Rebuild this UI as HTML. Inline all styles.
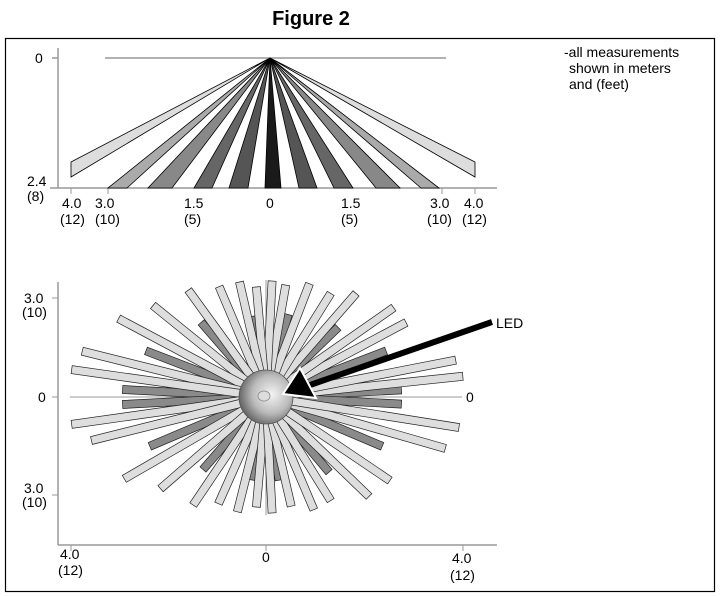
<!DOCTYPE html>
<html><head><style>
html,body{margin:0;padding:0;background:#fff;}
svg{display:block;font-family:"Liberation Sans",Arial,sans-serif;}
</style></head><body>
<svg id="s" width="721" height="596" viewBox="0 0 721 596" xmlns="http://www.w3.org/2000/svg">
<text x="311" y="25" font-size="20" font-weight="bold" text-anchor="middle">Figure 2</text>
<rect x="5.5" y="38.5" width="709" height="553" fill="none" stroke="#000" stroke-width="1.2"/>
<line x1="58" y1="48" x2="58" y2="188" stroke="#999" stroke-width="1.5"/>
<line x1="50" y1="188" x2="497" y2="188" stroke="#999" stroke-width="1.5"/>
<line x1="52" y1="58" x2="58" y2="58" stroke="#999" stroke-width="1.5"/>
<line x1="105" y1="58" x2="446" y2="58" stroke="#999" stroke-width="1.5"/>
<g stroke="#999" stroke-width="1"><line x1="71" y1="188" x2="71" y2="194"/><line x1="108" y1="188" x2="108" y2="194"/><line x1="442" y1="188" x2="442" y2="194"/><line x1="475" y1="188" x2="475" y2="194"/></g>
<g stroke="#000" stroke-width="0.8">
<polygon points="270,58 71,162 71,177" fill="#ddd"/>
<polygon points="270,58 475,162 475,177" fill="#ddd"/>
<polygon points="270,58 108,188 127,188" fill="#aaa"/>
<polygon points="270,58 421,188 439,188" fill="#aaa"/>
<polygon points="270,58 148,188 172,188" fill="#888"/>
<polygon points="270,58 376,188 400,188" fill="#888"/>
<polygon points="270,58 194,188 212,188" fill="#666"/>
<polygon points="270,58 334,188 353,188" fill="#666"/>
<polygon points="270,58 229,188 248,188" fill="#555"/>
<polygon points="270,58 299,188 317,188" fill="#555"/>
<polygon points="270,58 265,188 281,188" fill="#1a1a1a"/>
</g>
<g font-size="14">
<text x="35" y="63">0</text>
<text x="27" y="186">2.4</text><text x="27" y="201">(8)</text>
<text x="62" y="208">4.0</text><text x="60" y="224">(12)</text>
<text x="95" y="208">3.0</text><text x="95" y="224">(10)</text>
<text x="184" y="208">1.5</text><text x="184" y="224">(5)</text>
<text x="266" y="208">0</text>
<text x="341" y="208">1.5</text><text x="341" y="224">(5)</text>
<text x="430" y="208">3.0</text><text x="427" y="224">(10)</text>
<text x="464" y="208">4.0</text><text x="462" y="224">(12)</text>
<text x="564" y="57">-all measurements</text>
<text x="569" y="73">shown in meters</text>
<text x="569" y="89">and (feet)</text>
</g>
<line x1="58" y1="282" x2="58" y2="545" stroke="#999" stroke-width="1.5"/>
<line x1="58" y1="545" x2="497" y2="545" stroke="#999" stroke-width="1.5"/>
<g stroke="#999" stroke-width="1"><line x1="52" y1="298" x2="58" y2="298"/><line x1="52" y1="397" x2="58" y2="397"/><line x1="52" y1="495" x2="58" y2="495"/><line x1="71" y1="545" x2="71" y2="551"/><line x1="266" y1="545" x2="266" y2="551"/><line x1="463" y1="545" x2="463" y2="551"/></g>
<line x1="70" y1="397" x2="462" y2="397" stroke="#999" stroke-width="1"/>
<line x1="266" y1="280" x2="266" y2="515" stroke="#999" stroke-width="1"/>
<g id="rays" stroke="#222" stroke-width="0.7"></g>
<defs><radialGradient id="g" cx="0.6" cy="0.45" r="0.7"><stop offset="0" stop-color="#f4f4f4"/><stop offset="0.5" stop-color="#bbb"/><stop offset="1" stop-color="#444"/></radialGradient></defs>
<circle cx="266" cy="397" r="27" fill="url(#g)" stroke="#555" stroke-width="0.8"/>
<ellipse cx="264" cy="396" rx="6" ry="5" fill="#ddd" stroke="#888" stroke-width="0.8"/>
<line x1="492" y1="322" x2="310" y2="385" stroke="#000" stroke-width="6"/>
<polygon points="283,394 300,368 316,398" fill="#000" stroke="#fff" stroke-width="2"/>
<g font-size="14">
<text x="496" y="328">LED</text>
<text x="466" y="402">0</text>
<text x="38" y="402">0</text>
<text x="24" y="303">3.0</text><text x="22" y="317">(10)</text>
<text x="24" y="493">3.0</text><text x="22" y="507">(10)</text>
<text x="60" y="559">4.0</text><text x="58" y="575">(12)</text>
<text x="262" y="562">0</text>
<text x="452" y="563">4.0</text><text x="450" y="580">(12)</text>
</g>
<script>
(function(){
var g=document.getElementById('rays'),cx=266,cy=397,a=200,b=116;
var light=[[6,1],[11,1],[28,0.95],[35,1],[49,1],[58,0.95],[69,1],[80,0.97],[87,1],[95,0.95],[103,1],[113,0.98],[126,1],[141,0.97],[152,1],[166,1],[172,1],[188,1],[194,0.95],[210,1],[221,0.95],[236,1],[246,0.95],[256,1],[265,0.95],[273,1],[283,0.95],[293,1],[302,0.95],[316,1],[326,0.95],[344,1],[351,1]];
var dark=[[3,0.68],[-3,0.68],[21,0.72],[44,0.7],[75,0.72],[99,0.7],[131,0.72],[159,0.72],[177,0.72],[183,0.72],[203,0.72],[229,0.7],[261,0.72],[279,0.72],[310,0.72],[337,0.72]];
function add(list,w,fill){list.forEach(function(r){var t=r[0]*Math.PI/180,c=Math.cos(t),s=Math.sin(t);
var R=1/Math.sqrt(c*c/(a*a)+s*s/(b*b))*r[1],r0=22;var nx=-s,ny=c;
var pts=[[r0*c-nx*w/2,r0*s-ny*w/2],[R*c-nx*w/2,R*s-ny*w/2],[R*c+nx*w/2,R*s+ny*w/2],[r0*c+nx*w/2,r0*s+ny*w/2]];
var p=document.createElementNS('http://www.w3.org/2000/svg','polygon');
p.setAttribute('points',pts.map(function(q){return (cx+q[0]).toFixed(1)+','+(cy-q[1]).toFixed(1)}).join(' '));
p.setAttribute('fill',fill);g.appendChild(p);});}
add(dark,8,'#8a8a8a');add(light,8,'#dedede');
})();
</script>
</svg>
</body></html>
